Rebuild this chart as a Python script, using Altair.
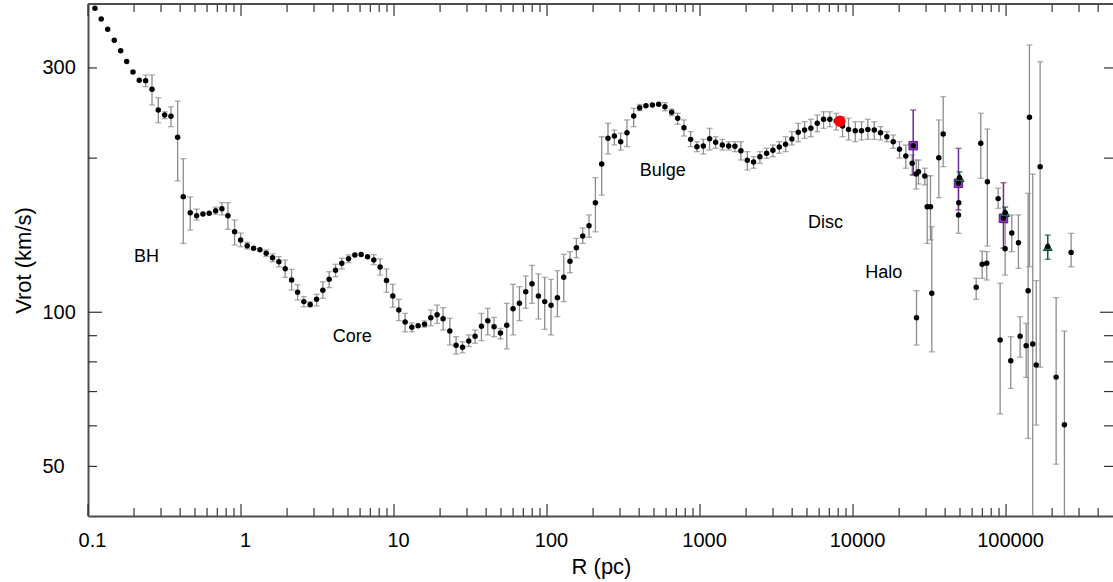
import altair as alt
import pandas as pd

FONT = "Liberation Sans"

# ---------------- data ----------------
R = [0.111, 0.122, 0.1345, 0.1485, 0.1635, 0.179, 0.1968, 0.2163, 0.238, 0.262,
     0.288, 0.317, 0.3484, 0.3854, 0.4194, 0.4659, 0.5129, 0.5639, 0.6198, 0.6824,
     0.750, 0.821, 0.908, 0.994, 1.098, 1.209, 1.329, 1.461, 1.608, 1.768,
     1.944, 2.141, 2.343, 2.575, 2.831, 3.117, 3.427, 3.768, 4.149, 4.560,
     5.045, 5.546, 6.097, 6.714, 7.379, 8.114, 8.933, 9.822, 10.75, 11.82,
     13.07, 14.37, 15.82, 17.39, 19.12, 20.93, 23.15, 25.44, 28.02, 30.80,
     33.86, 37.28, 41.00, 45.07, 49.62, 54.56, 59.97, 66.04, 72.59, 79.8,
     87.85, 96.6, 106.2, 116.9, 128.6, 141.3, 155.6, 171.1, 188.1, 207.1,
     227.7, 250.3, 275.5, 302.9, 333.0, 368.4, 403.3, 443.2, 488.1, 536.7,
     589.8, 652.5, 714.2, 785.0, 868.2, 954.3, 1051, 1155, 1265, 1399,
     1538, 1690, 1850, 2037, 2239, 2462, 2723, 2994, 3296, 3623,
     3985, 4386, 4822, 5303, 5838, 6417, 7055, 7769, 8540, 9346,
     10340, 11360, 12490, 13760, 15120, 16630, 18310, 20120, 22130, 24360,
     25870, 26780, 25990, 29440, 30520, 32070, 32700, 36350, 38830, 49090,
     48870, 63800, 68360, 69820, 74780, 75500, 88800, 91500, 98650, 107300,
     109000, 120500, 123600, 135300, 139400, 142200, 149400, 157500, 167000, 212500,
     240700, 266200]

V = [392.5, 374, 357, 340, 324, 309, 294.6, 284, 283.4, 272.6,
     248.3, 242.8, 241.4, 219.6, 168.2, 156.5, 154.4, 155.6, 156.1, 157.9,
     159.3, 154.4, 143.6, 138.4, 134.9, 133.4, 132.5, 130.4, 127.8, 125.5,
     121.6, 115.6, 109.4, 104.9, 103.6, 106.0, 110.4, 116.0, 120.8, 124.6,
     127.2, 129.4, 129.6, 128.4, 126.5, 122.6, 115.3, 107.6, 101.0, 95.7,
     93.5, 94.1, 94.8, 97.6, 98.9, 97.1, 91.9, 86.2, 85.4, 87.9,
     89.8, 93.9, 96.3, 93.7, 91.1, 94.3, 101.6, 104.1, 109.7, 113.7,
     107.6, 104.9, 103.2, 106.8, 117.0, 125.8, 133.7, 140.9, 147.6, 163.7,
     194.8, 218.6, 220.9, 215.3, 224.2, 241.7, 250.9, 253.2, 254.0, 254.8,
     252.1, 245.8, 239.3, 229.3, 217.6, 210.6, 211.2, 218.3, 214.7, 212.2,
     211.2, 210.9, 206.8, 198.1, 196.6, 201.3, 204.4, 207.2, 210.3, 212.8,
     217.9, 224.7, 226.9, 228.7, 233.9, 238.2, 238.2, 236.4, 231.1, 227.6,
     226.2, 226.2, 227.6, 226.9, 224.2, 220.2, 215.3, 208.1, 201.9, 195.4,
     186.2, 188.2, 97.6, 184.6, 160.8, 160.8, 108.9, 200.4, 222.9, 163.7,
     154.9, 111.9, 213.8, 124.1, 124.6, 179.9, 166.7, 88.3, 133.1, 80.4,
     142.8, 136.7, 89.8, 86.0, 110.2, 240.4, 86.7, 78.9, 192.5, 74.7,
     60.3, 130.9]

V_HI = [None, None, None, None, None, None, None, None, 290.7, 290.7,
        262.4, 246.4, 252.0, 258.5, 199.5, 168.0, 159.1, None, None, 160.4,
        163.7, 163.7, 151.4, 142.8, 137.0, None, None, 132.3, 130.0, 128.4,
        126.5, 121.3, 113.1, 107.3, 104.8, 108.4, 114.7, 120.0, 124.1, 127.5,
        129.4, None, None, None, 129.6, 127.1, 121.5, 113.4, 106.0, 99.5,
        95.3, None, 96.2, 101.0, 103.3, 102.1, 97.3, 89.6, 87.6, 90.3,
        92.3, 99.5, 101.8, 97.7, 93.0, 104.1, 113.4, 112.2, 117.7, 123.5,
        118.8, 117.0, 116.0, 120.6, 129.8, 131.3, 139.4, 146.1, 154.9, 183.2,
        220.2, 233.9, 226.9, 223.6, 237.5, 250.2, 254.6, None, None, None,
        256.6, 249.3, 244.7, 237.5, 225.3, 215.3, 217.6, 228.7, 220.2, 217.6,
        215.3, 215.3, 215.3, 205.9, 201.3, 205.9, 209.0, 212.2, 215.3, 220.2,
        225.3, 233.9, 235.6, 238.2, 242.8, 246.4, 246.4, 244.7, 240.9, 239.3,
        235.6, 235.6, 238.2, 235.6, 230.4, 225.3, 221.9, 215.3, 212.2, 202.8,
        198.3, 198.3, 110.2, 191.1, 184.8, 184.8, 146.9, 237.5, 263.6, None,
        175.9, 116.5, 244.7, 131.7, 131.3, 228.0, 174.7, 113.9, 149.2, 89.6,
        154.9, 154.9, 98.0, 95.1, 170.7, 332.7, 186.2, 115.3, 308.6, 106.8,
        91.9, 142.6]

V_LO = [None, None, None, None, None, None, None, None, 275.8, 254.0,
        234.5, 238.8, 230.4, 180.5, 136.3, 144.7, 151.4, None, None, 155.4,
        154.9, 145.2, 135.3, 134.3, 132.9, None, None, 128.5, 125.5, 122.7,
        117.0, 110.5, 105.7, 102.5, 102.4, 102.9, 106.5, 111.7, 117.3, 121.5,
        125.0, None, None, None, 123.9, 118.2, 109.4, 102.3, 96.3, 91.6,
        91.6, None, 93.5, 94.1, 95.1, 92.3, 86.3, 82.8, 83.3, 85.7,
        87.0, 88.0, 90.3, 89.6, 88.7, 84.8, 90.3, 96.3, 101.8, 104.1,
        97.0, 92.6, 90.3, 98.0, 104.9, 119.5, 127.8, 136.3, 140.1, 143.6,
        169.4, 203.7, 212.2, 207.5, 210.6, 230.4, 247.6, None, None, None,
        247.5, 242.1, 232.9, 220.9, 210.6, 205.9, 203.7, 207.5, 209.0, 207.5,
        207.5, 205.9, 198.3, 189.6, 191.1, 195.4, 199.8, 201.3, 204.4, 205.9,
        212.2, 215.3, 218.6, 220.2, 225.3, 228.7, 230.4, 226.9, 220.2, 217.0,
        215.3, 217.0, 217.6, 217.6, 217.0, 215.3, 209.0, 200.1, 191.1, 185.4,
        174.1, 178.0, 86.3, 177.3, 136.3, 138.4, 83.7, 167.4, 192.5, None,
        142.6, 106.0, 182.7, 116.5, 115.6, 134.7, 159.6, 63.3, 118.2, 71.0,
        131.3, 121.8, 81.7, 74.6, 56.7, 122.7, 30.0, 60.2, 78.1, 50.5,
        30.0, 122.7]

# purple squares
P_R = [24730, 48870, 96160]
P_V = [211.5, 178.6, 152.6]
P_HI = [248.3, 209.0, 179.1]
P_LO = [185.4, 158.4, 133.4]

# green triangles
G_R = [49620, 98650, 187300]
G_V = [183.2, 156.5, 134.3]
G_HI = [188.0, 160.5, 141.5]
G_LO = [178.5, 152.5, 126.9]

# red point (Sun)
SUN_R = [8200]
SUN_V = [236]

# region labels
LAB_TEXT = ["BH", "Core", "Bulge", "Disc", "Halo"]
LAB_R = [0.2416, 5.325, 569.8, 6613, 15900]
LAB_V = [128.4, 89.5, 189.0, 149.2, 119.5]

# axis ticks / labels
X_LABELS = [0.1, 1, 10, 100, 1000, 10000, 100000]
X_MINOR = [m * d for d in [0.1, 1, 10, 100, 1000, 10000, 100000] for m in range(2, 10)
           if m * d < 500000]
Y_LABELS = [50, 100, 300]
Y_MAJOR = [100]
Y_MINOR = [50, 60, 70, 80, 90, 200, 300]

# ---------------- layout ----------------
W, H = 1025, 512
FRAME = "#4d4d4d"
TICK = "#333333"
ERR = "#8c8c8c"

xs = alt.Scale(type="log", domain=[0.1, 500000], nice=False)
ys = alt.Scale(type="log", domain=[40, 400], nice=False)

x_axis = alt.Axis(title="R (pc)", values=X_LABELS, format="~g", labelFlush=False,
                  labelOverlap=False, labelFont=FONT, labelFontSize=20, labelColor="black",
                  labelPadding=14, labelOffset=4, ticks=False, tickSize=0, grid=False,
                  domain=True, domainColor=FRAME, domainWidth=2,
                  titleFont=FONT, titleFontSize=22, titleFontWeight="normal",
                  titleColor="black", titleX=513, titleY=57, titleBaseline="alphabetic",
                  titleAlign="center")
y_axis = alt.Axis(title="Vrot (km/s)", values=Y_LABELS, format="d", labelFlush=False,
                  labelOverlap=False, labelFont=FONT, labelFontSize=20, labelColor="black",
                  labelAlign="left", labelBaseline="middle", labelPadding=46,
                  ticks=False, tickSize=0, grid=False,
                  domain=True, domainColor=FRAME, domainWidth=2,
                  titleFont=FONT, titleFontSize=22, titleFontWeight="normal",
                  titleColor="black", titleX=-65, titleY=256, titleAngle=270,
                  titleBaseline="middle", titleAlign="center")

df = pd.DataFrame({"R": R, "V": V, "hi": V_HI, "lo": V_LO})
df_err = df.dropna(subset=["hi", "lo"])
df_p = pd.DataFrame({"R": P_R, "V": P_V, "hi": P_HI, "lo": P_LO})
df_g = pd.DataFrame({"R": G_R, "V": G_V, "hi": G_HI, "lo": G_LO})
df_sun = pd.DataFrame({"R": SUN_R, "V": SUN_V})
df_lab = pd.DataFrame({"R": LAB_R, "V": LAB_V, "t": LAB_TEXT})

X = lambda f="R": alt.X(f"{f}:Q", scale=xs, axis=x_axis)
Y = lambda f="V": alt.Y(f"{f}:Q", scale=ys, axis=y_axis)


def errbars(data, color, width):
    bars = alt.Chart(data).mark_rule(color=color, strokeWidth=width, clip=True).encode(
        x=X(), y=Y("lo"), y2="hi")
    cap_hi = alt.Chart(data).mark_tick(color=color, orient="horizontal", size=6,
                                        thickness=width, clip=True).encode(x=X(), y=Y("hi"))
    cap_lo = alt.Chart(data).mark_tick(color=color, orient="horizontal", size=6,
                                        thickness=width, clip=True).encode(x=X(), y=Y("lo"))
    return [bars, cap_hi, cap_lo]


layers = []
layers += errbars(df_err, ERR, 1.3)
layers += errbars(df_p, "#6a2c9a", 1.5)
layers += errbars(df_g, "#0b5a3c", 1.5)

squares = alt.Chart(df_p).mark_square(size=72, color="#9a32cd", stroke="#5a1a88",
                                      strokeWidth=1, opacity=1).encode(x=X(), y=Y())
tris = alt.Chart(df_g).mark_point(shape="triangle-up", size=80, filled=True,
                                  fill="#178468", stroke="#0b4a36", strokeWidth=1,
                                  opacity=1).encode(x=X(), y=Y())
dots = alt.Chart(df).mark_circle(size=30, color="black", opacity=1).encode(x=X(), y=Y())
special = pd.concat([df_p, df_g])
dots2 = alt.Chart(special).mark_circle(size=28, color="black", opacity=1).encode(x=X(), y=Y())
sun = alt.Chart(df_sun).mark_circle(size=130, color="#ff0000", opacity=1).encode(x=X(), y=Y())
labels = alt.Chart(df_lab).mark_text(font=FONT, fontSize=18, color="black",
                                     align="center", baseline="middle").encode(
    x=X(), y=Y(), text="t:N")
layers += [squares, tris, dots, dots2, sun, labels]

# inward tick marks on all four sides
dxM = pd.DataFrame({"t": X_LABELS})
dxm = pd.DataFrame({"t": X_MINOR})
dyM = pd.DataFrame({"t": Y_MAJOR})
dym = pd.DataFrame({"t": Y_MINOR})
tk = dict(color=TICK, strokeWidth=1.2)
layers += [
    alt.Chart(dxM).mark_rule(**tk).encode(x=X("t"), y=alt.value(H), y2=alt.value(H - 12)),
    alt.Chart(dxm).mark_rule(**tk).encode(x=X("t"), y=alt.value(H), y2=alt.value(H - 8)),
    alt.Chart(dxM).mark_rule(**tk).encode(x=X("t"), y=alt.value(0), y2=alt.value(12)),
    alt.Chart(dxm).mark_rule(**tk).encode(x=X("t"), y=alt.value(0), y2=alt.value(8)),
    alt.Chart(dyM).mark_rule(**tk).encode(y=Y("t"), x=alt.value(0), x2=alt.value(14)),
    alt.Chart(dym).mark_rule(**tk).encode(y=Y("t"), x=alt.value(0), x2=alt.value(9)),
    alt.Chart(dyM).mark_rule(**tk).encode(y=Y("t"), x=alt.value(W), x2=alt.value(W - 13)),
    alt.Chart(dym).mark_rule(**tk).encode(y=Y("t"), x=alt.value(W), x2=alt.value(W - 9)),
    alt.Chart(dxM).mark_rule(color=FRAME, strokeWidth=2).encode(
        x=alt.value(0), x2=alt.value(W), y=alt.value(0)),
]

chart = alt.layer(*layers).properties(
    width=W, height=H,
    autosize=alt.AutoSizeParams(type="none"),
    padding={"left": 88, "top": 4, "right": 0, "bottom": 66},
    background="white",
).configure_view(stroke=None)

chart.save("out.html", embed_options={"renderer": "svg", "actions": False})
